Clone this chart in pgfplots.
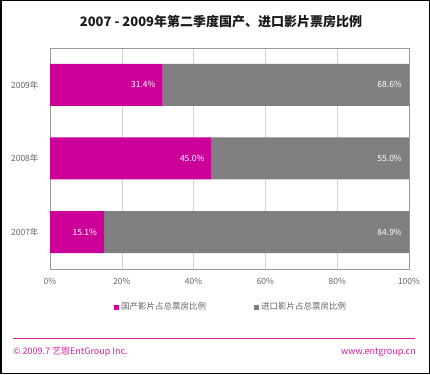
\documentclass[border=0pt]{standalone}
\usepackage{pgfplots}
\pgfplotsset{compat=1.18}
\usepackage{fontspec}
\setmainfont{Noto Sans CJK SC}
\definecolor{magbar}{RGB}{204,0,153}
\definecolor{graybar}{RGB}{128,128,128}
\definecolor{footmag}{RGB}{214,30,160}
\definecolor{ticktxt}{RGB}{100,100,100}
\pgfplotsset{sqlegend/.style={legend image code/.code={\fill[##1] (0pt,-2.5pt) rectangle (5pt,2.5pt);}}}
\begin{document}
\begin{tikzpicture}
\draw[black,line width=1.5pt] (0.75pt,0.75pt) rectangle (429.25pt,373.25pt);
\node[font=\bfseries\fontsize{13}{13}\selectfont,text=black!90] at (221pt,352pt) {2007 - 2009年第二季度国产、进口影片票房比例};
\begin{axis}[
  at={(50pt,105pt)}, anchor=south west,
  scale only axis, width=359pt, height=221pt,
  xbar stacked, bar width=42pt,
  xmin=0, xmax=100, ymin=-0.5, ymax=2.5,
  xtick={0,20,40,60,80,100},
  xticklabel={\pgfmathprintnumber{\tick}\%},
  ytick={0,1,2}, yticklabels={2007年,2008年,2009年},
  major tick length=0pt,
  xmajorgrids, grid style={draw=black!18},
  axis line style={draw=black!40},
  tick label style={text=ticktxt,font=\fontsize{8.5}{8.5}\selectfont},
  /pgf/number format/assume math mode=true,
  xticklabel style={yshift=-6pt},
  yticklabel style={xshift=-8pt},
  legend columns=2,
  legend style={at={(0.17,-0.172)},anchor=west,draw=none,fill=none,font=\fontsize{8.5}{8.5}\selectfont,text=ticktxt,
    /tikz/every even column/.append style={column sep=46pt}},
]
\addplot[fill=magbar,draw=none,sqlegend]
  coordinates {(15.1,0) (45.0,1) (31.4,2)};
\addlegendentry{国产影片占总票房比例}
\addplot[fill=graybar,draw=none,sqlegend]
  coordinates {(84.9,0) (55.0,1) (68.6,2)};
\addlegendentry{进口影片占总票房比例}
\end{axis}
\begin{axis}[
  at={(50pt,105pt)}, anchor=south west,
  scale only axis, width=359pt, height=221pt,
  xmin=0, xmax=100, ymin=-0.5, ymax=2.5,
  hide axis,
  /pgf/number format/assume math mode=true,
  point meta=explicit,
  nodes near coords={\pgfmathprintnumber[fixed,fixed zerofill,precision=1]{\pgfplotspointmeta}\%},
  every node near coord/.append style={anchor=east,inner sep=0pt,xshift=-7pt,text=white,font=\fontsize{8.5}{8.5}\selectfont},
]
\addplot[draw=none,mark=none]
  coordinates {(15.1,0) [15.1] (45.0,1) [45.0] (31.4,2) [31.4]};
\addplot[draw=none,mark=none]
  coordinates {(100,0) [84.9] (100,1) [55.0] (100,2) [68.6]};
\end{axis}
\draw[footmag,line width=0.8pt] (13pt,36pt) -- (415pt,36pt);
\node[anchor=west,text=footmag,font=\fontsize{9}{9}\selectfont,inner sep=0pt] at (13pt,22pt) {© 2009.7 艺恩EntGroup Inc.};
\node[anchor=east,text=footmag,font=\fontsize{9}{9}\selectfont,inner sep=0pt] at (416pt,22pt) {www.entgroup.cn};
\end{tikzpicture}
\end{document}
